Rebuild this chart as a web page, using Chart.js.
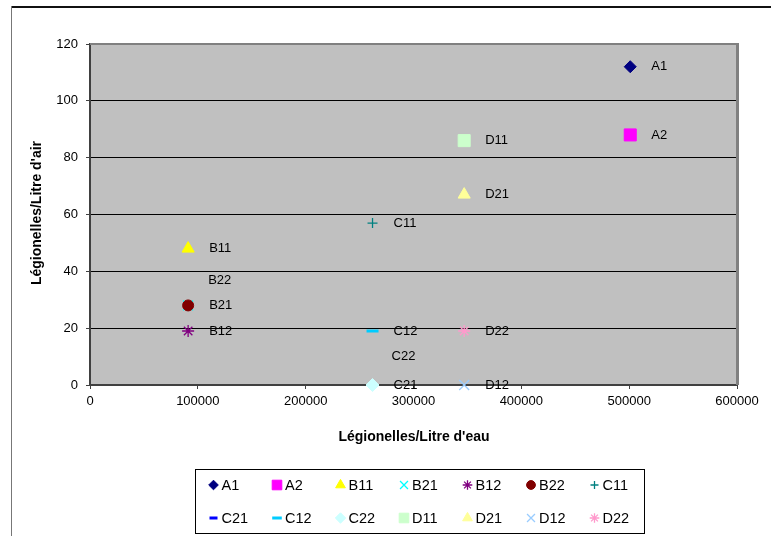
<!DOCTYPE html>
<html lang="fr">
<head>
<meta charset="UTF-8">
<title>Légionelles</title>
<script src="https://cdn.jsdelivr.net/npm/chart.js"></script>
<style>
  html, body { margin: 0; padding: 0; background: #fff; }
  #wrap { width: 771px; height: 536px; }
</style>
</head>
<body>
<div id="wrap"><canvas id="chart" width="771" height="536"></canvas></div>
<script>
// data
const names     = ["A1", "A2", "B11", "B21", "B12", "B22", "C11", "C21", "C12", "C22", "D11", "D21", "D12", "D22"];
const eauValues = [501000, 501000, 91000, 91000, 91000, 91000, 262000, 262000, 262000, 262000, 347000, 347000, 347000, 347000];
const airValues = [112, 88, 48, 28, 19, 28, 57, 0, 19, 0, 86, 67, 0, 19];
const xTicks = [0, 100000, 200000, 300000, 400000, 500000, 600000];
const yTicks = [0, 20, 40, 60, 80, 100, 120];

// marker styles (Excel defaults)
const markerStyles = ["rectRot", "rect", "triangle", "crossRot", "star", "circle", "cross",
                      "line", "line", "rectRot", "rect", "triangle", "crossRot", "star"];
const markerColors = ["#000080", "#FF00FF", "#FFFF00", "#00FFFF", "#800080", "#800000", "#008080",
                      "#0000FF", "#00CCFF", "#CCFFFF", "#CCFFCC", "#FFFF99", "#99CCFF", "#FF99CC"];
const markerSizes  = [6, 8.5, 7, 7, 6, 5.5, 5, 5, 6, 6.5, 8.5, 7, 7, 6];
const strokeOnly = ["cross", "crossRot", "star", "line"];

// moved labels (dx, dy from the default spot)
const labelShift = { B22: [-1, -25], C22: [-2, -29] };

const FONT = "'Liberation Sans', Arial, sans-serif";

const datasets = names.map((n, i) => {
  const stroke = strokeOnly.includes(markerStyles[i]);
  return {
    label: n,
    data: [{ x: eauValues[i], y: airValues[i] }],
    pointStyle: markerStyles[i],
    pointRadius: markerSizes[i],
    pointHoverRadius: markerSizes[i],
    backgroundColor: markerColors[i],
    borderColor: markerColors[i],
    borderWidth: stroke ? (markerStyles[i] == "line" ? 3 : 1.3) : 1,
    clip: false,
    order: names.length - i   // later series on top, like Excel
  };
});

const frame = {
  id: "frame",
  beforeDraw(chart) {
    const ctx = chart.ctx, a = chart.chartArea;
    ctx.save();
    ctx.fillStyle = "#fff";
    ctx.fillRect(0, 0, chart.width, chart.height);
    // outer frame
    ctx.fillStyle = "#111";
    ctx.fillRect(11, 6, chart.width - 11, 2);
    ctx.fillStyle = "#777";
    ctx.fillRect(11, 6, 1, chart.height);
    // plot area
    ctx.fillStyle = "#C0C0C0";
    ctx.fillRect(a.left, a.top, a.right - a.left, a.bottom - a.top);
    ctx.restore();
  },
  afterDatasetsDraw(chart) {
    const ctx = chart.ctx;
    ctx.save();
    ctx.font = "13px " + FONT;
    ctx.fillStyle = "#000";
    ctx.textBaseline = "middle";
    ctx.textAlign = "left";
    chart.data.datasets.forEach((ds, i) => {
      const pt = chart.getDatasetMeta(i).data[0];
      const s = labelShift[ds.label] || [0, 0];
      ctx.fillText(ds.label, pt.x + 21 + s[0], pt.y + s[1]);
    });
    ctx.restore();
  },
  afterDraw(chart) {
    const ctx = chart.ctx, a = chart.chartArea;
    ctx.save();
    // top and right edge of plot area
    ctx.fillStyle = "#808080";
    ctx.fillRect(a.left, a.top - 1, a.right - a.left + 2, 2);
    ctx.fillRect(a.right - 1, a.top - 1, 3, a.bottom - a.top + 1);

    // axis titles
    ctx.fillStyle = "#000";
    ctx.font = "bold 14px " + FONT;
    ctx.textAlign = "center";
    ctx.textBaseline = "middle";
    ctx.fillText("Légionelles/Litre d'eau", 414, 437);
    ctx.translate(37, 213);
    ctx.rotate(-Math.PI / 2);
    ctx.fillText("Légionelles/Litre d'air", 0, 0);
    ctx.setTransform(1, 0, 0, 1, 0, 0);

    // legend
    ctx.strokeStyle = "#000";
    ctx.lineWidth = 1;
    ctx.strokeRect(195.5, 469.5, 449, 64);
    ctx.font = "14.5px " + FONT;
    ctx.textAlign = "left";
    chart.data.datasets.forEach((ds, i) => {
      const col = i % 7, row = Math.floor(i / 7);
      const mx = 213.5 + col * 63.5, my = 485 + row * 33;
      ctx.fillStyle = ds.backgroundColor;
      ctx.strokeStyle = ds.borderColor;
      ctx.lineWidth = ds.borderWidth;
      Chart.helpers.drawPoint(ctx, {
        pointStyle: ds.pointStyle,
        radius: ds.pointRadius * 0.8,
        rotation: 0,
        borderWidth: ds.borderWidth
      }, mx, my);
      ctx.fillStyle = "#000";
      ctx.fillText(ds.label, mx + 8, my + 1);
    });
    ctx.restore();
  }
};

new Chart(document.getElementById("chart"), {
  type: "scatter",
  data: { datasets: datasets },
  options: {
    responsive: false,
    animation: false,
    events: [],
    layout: { padding: { left: 0, top: 44, right: 34, bottom: 0 } },
    plugins: { legend: { display: false }, tooltip: { enabled: false } },
    scales: {
      x: {
        type: "linear",
        min: 0, max: 600000,
        afterBuildTicks: s => { s.ticks = xTicks.map(v => ({ value: v })); },
        afterFit: s => { s.height = 151; },
        ticks: { color: "#000", font: { size: 13, family: FONT }, padding: 5, callback: v => String(v) },
        grid: { drawOnChartArea: false, tickLength: 4, tickColor: "#404040" },
        border: { color: "#404040", width: 2 }
      },
      y: {
        min: 0, max: 120,
        afterBuildTicks: s => { s.ticks = yTicks.map(v => ({ value: v })); },
        afterFit: s => { s.width = 90; },
        ticks: { color: "#000", font: { size: 13, family: FONT }, padding: 8 },
        grid: {
          color: c => (c.tick && (c.tick.value == 0 || c.tick.value == 120)) ? "rgba(0,0,0,0)" : "#000",
          tickLength: 4, tickColor: "#404040"
        },
        border: { color: "#404040", width: 2 }
      }
    }
  },
  plugins: [frame]
});
</script>
</body>
</html>
